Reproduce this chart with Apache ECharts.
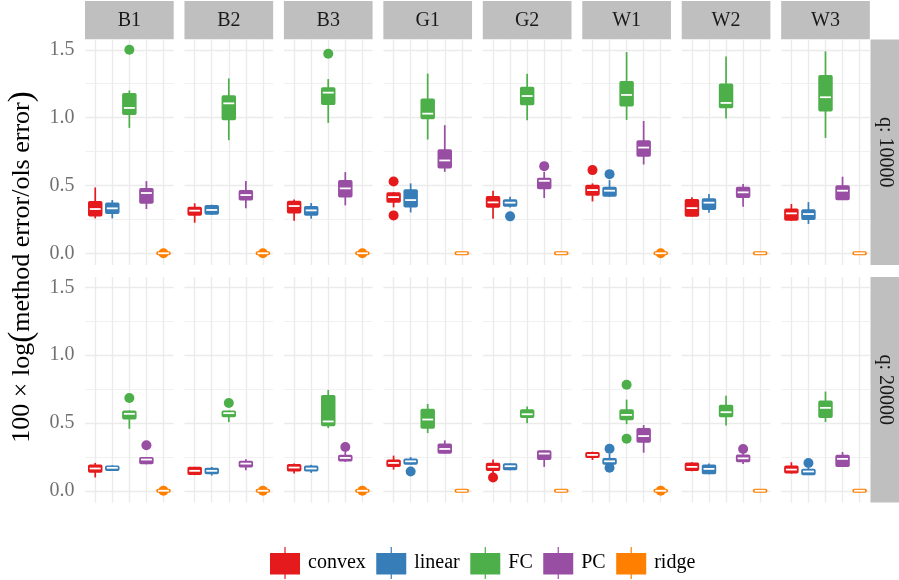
<!DOCTYPE html>
<html><head><meta charset="utf-8">
<script src="https://cdn.jsdelivr.net/npm/echarts/dist/echarts.min.js"></script>
<style>html,body{margin:0;padding:0;background:#fff}#c{width:899px;height:580px}</style>
</head><body><div id="c"></div>
<script>
// ---------- data ----------
const facets = ['B1', 'B2', 'B3', 'G1', 'G2', 'W1', 'W2', 'W3'];
const rowLabels = ['q: 10000', 'q: 20000'];
const methods = ['convex', 'linear', 'FC', 'PC', 'ridge'];
const yTicks = [0, 0.5, 1.0, 1.5];
const yTickLabels = ['0.0', '0.5', '1.0', '1.5'];
const yMinorTicks = [0.25, 0.75, 1.25];
const yTitle = '100 × log{p|(}method error/ols error{p|)}';

// box stats per facet: [lower whisker, Q1, median, Q3, upper whisker]
const convexQ10000 = [[0.257,0.277,0.326,0.380,0.485],[0.225,0.282,0.314,0.338,0.368],[0.240,0.299,0.348,0.382,0.397],[0.338,0.377,0.414,0.444,0.451],[0.255,0.341,0.375,0.417,0.461],[0.382,0.429,0.466,0.500,0.515],[0.270,0.275,0.333,0.395,0.412],[0.240,0.245,0.294,0.324,0.363]];
const linearQ10000 = [[0.257,0.294,0.331,0.368,0.392],[0.282,0.289,0.319,0.350,0.358],[0.255,0.282,0.316,0.343,0.370],[0.301,0.343,0.392,0.466,0.515],[0.338,0.348,0.373,0.392,0.417],[0.417,0.422,0.461,0.485,0.539],[0.299,0.324,0.373,0.400,0.436],[0.216,0.250,0.289,0.319,0.377]];
const fcQ10000 = [[0.924,1.025,1.071,1.176,1.200],[0.833,0.985,1.105,1.159,1.289],[0.961,1.098,1.184,1.218,1.284],[0.838,0.993,1.029,1.135,1.324],[0.980,1.096,1.159,1.221,1.324],[0.983,1.088,1.167,1.265,1.483],[0.993,1.074,1.108,1.245,1.451],[0.850,1.051,1.150,1.309,1.488]];
const pcQ10000 = [[0.326,0.370,0.444,0.475,0.532],[0.331,0.395,0.429,0.461,0.532],[0.353,0.417,0.478,0.534,0.598],[0.600,0.630,0.684,0.762,0.944],[0.407,0.478,0.534,0.551,0.600],[0.654,0.716,0.779,0.828,0.975],[0.343,0.412,0.449,0.485,0.510],[0.397,0.397,0.461,0.495,0.564]];
const ridgeQ10000 = [[-0.012,-0.010,0,0.010,0.012],[-0.012,-0.010,0,0.010,0.012],[-0.012,-0.010,0,0.010,0.012],[-0.011,-0.010,0,0.010,0.011],[-0.011,-0.010,0,0.010,0.011],[-0.012,-0.010,0,0.010,0.012],[-0.011,-0.010,0,0.010,0.011],[-0.011,-0.010,0,0.010,0.011]];

const convexQ20000 = [[0.098,0.139,0.164,0.188,0.205],[0.115,0.122,0.147,0.171,0.176],[0.127,0.147,0.171,0.191,0.200],[0.156,0.181,0.205,0.225,0.259],[0.127,0.151,0.176,0.200,0.230],[0.227,0.247,0.264,0.281,0.288],[0.144,0.151,0.176,0.203,0.210],[0.127,0.132,0.156,0.181,0.210]];
const linearQ20000 = [[0.147,0.151,0.169,0.181,0.188],[0.112,0.127,0.147,0.164,0.176],[0.132,0.147,0.164,0.181,0.191],[0.193,0.198,0.217,0.232,0.249],[0.151,0.156,0.181,0.198,0.200],[0.188,0.198,0.217,0.235,0.274],[0.122,0.127,0.161,0.188,0.200],[0.120,0.120,0.142,0.156,0.170]];
const fcQ20000 = [[0.457,0.530,0.567,0.586,0.591],[0.506,0.547,0.572,0.586,0.591],[0.462,0.481,0.511,0.701,0.743],[0.425,0.462,0.525,0.599,0.640],[0.498,0.542,0.564,0.596,0.621],[0.491,0.525,0.559,0.596,0.672],[0.481,0.547,0.579,0.628,0.701],[0.506,0.542,0.611,0.660,0.731]];
const pcQ20000 = [[0.195,0.200,0.230,0.244,0.249],[0.151,0.176,0.200,0.215,0.232],[0.213,0.222,0.242,0.259,0.286],[0.274,0.279,0.308,0.342,0.371],[0.176,0.232,0.274,0.293,0.298],[0.281,0.359,0.403,0.457,0.484],[0.198,0.215,0.239,0.261,0.274],[0.176,0.181,0.235,0.259,0.286]];
const ridgeQ20000 = [[-0.012,-0.010,0,0.010,0.012],[-0.012,-0.010,0,0.010,0.012],[-0.012,-0.010,0,0.010,0.012],[-0.011,-0.010,0,0.010,0.011],[-0.011,-0.010,0,0.010,0.011],[-0.012,-0.010,0,0.010,0.012],[-0.011,-0.010,0,0.010,0.011],[-0.011,-0.010,0,0.010,0.011]];

// outliers per facet
const convexOutQ10000 = [[],[],[],[0.529,0.279],[],[0.613],[],[]];
const linearOutQ10000 = [[],[],[],[],[0.272],[0.583],[],[]];
const fcOutQ10000 = [[1.500],[],[1.471],[],[],[],[],[]];
const pcOutQ10000 = [[],[],[],[],[0.642],[],[],[]];
const ridgeOutQ10000 = [[0.0],[0.0],[0.0],[],[],[0.0],[],[]];

const convexOutQ20000 = [[],[],[],[],[0.098],[],[],[]];
const linearOutQ20000 = [[],[],[],[0.142],[],[0.310,0.169],[],[0.205]];
const fcOutQ20000 = [[0.684],[0.647],[],[],[],[0.782,0.384],[],[]];
const pcOutQ20000 = [[0.335],[],[0.323],[],[],[],[0.308],[]];
const ridgeOutQ20000 = [[0.0],[0.0],[0.0],[],[],[0.0],[],[]];

const boxesByRow = [
  [convexQ10000, linearQ10000, fcQ10000, pcQ10000, ridgeQ10000],
  [convexQ20000, linearQ20000, fcQ20000, pcQ20000, ridgeQ20000]
];
const outByRow = [
  [convexOutQ10000, linearOutQ10000, fcOutQ10000, pcOutQ10000, ridgeOutQ10000],
  [convexOutQ20000, linearOutQ20000, fcOutQ20000, pcOutQ20000, ridgeOutQ20000]
];

// ---------- styling / layout ----------
const colors = ['#E41A1C', '#377EB8', '#4DAF4A', '#984EA3', '#FF7F00'];
const FONT = 'Liberation Serif';
const Y_MIN = -0.0866, Y_MAX = 1.5756;
const LEFT0 = 85, STEP = 99.45, PW = 88.7;
const ROW_TOP = [39.5, 277], PH = 225.5;
const GRID_COL = '#EBEBEB';
const STRIP = '#BFBFBF';

const chart = echarts.init(document.getElementById('c'), null, { renderer: 'canvas' });

const grids = [], xAxes = [], yAxes = [], series = [], graphics = [];

function makeBoxRender(col) {
  return function (params, api) {
    const x = api.value(0);
    const lo = api.coord([x, api.value(1)]);
    const q1 = api.coord([x, api.value(2)]);
    const md = api.coord([x, api.value(3)]);
    const q3 = api.coord([x, api.value(4)]);
    const hi = api.coord([x, api.value(5)]);
    const hw = api.size([0.76, 0])[0] / 2;
    const cx = lo[0];
    return {
      type: 'group',
      children: [
        { type: 'line', shape: { x1: cx, y1: lo[1], x2: cx, y2: hi[1] }, style: { stroke: col, lineWidth: 1.7 } },
        { type: 'rect', shape: { x: cx - hw, y: q3[1], width: 2 * hw, height: Math.max(q1[1] - q3[1], 0.5), r: 1 },
          style: { fill: col, stroke: col, lineWidth: 1.5, lineJoin: 'round' } },
        { type: 'line', shape: { x1: cx - hw + 1, y1: md[1], x2: cx + hw - 1, y2: md[1] }, style: { stroke: '#FFFFFF', lineWidth: 1.8 } }
      ]
    };
  };
}

for (let r = 0; r < 2; r++) {
  for (let c = 0; c < facets.length; c++) {
    const idx = r * facets.length + c;
    const left = LEFT0 + c * STEP;
    grids.push({ left: left, top: ROW_TOP[r], width: PW, height: PH, containLabel: false });
    xAxes.push({ gridIndex: idx, type: 'value', min: 0.4, max: 5.6, show: false });
    yAxes.push({ gridIndex: idx, type: 'value', min: Y_MIN, max: Y_MAX, show: false });

    // grid lines through markLine
    const ml = [];
    yMinorTicks.forEach(v => ml.push({ yAxis: v, lineStyle: { width: 0.7 } }));
    yTicks.forEach(v => ml.push({ yAxis: v, lineStyle: { width: 1.4 } }));
    methods.forEach((m, k) => ml.push({ xAxis: k + 1, lineStyle: { width: 1.4 } }));
    series.push({
      type: 'line', xAxisIndex: idx, yAxisIndex: idx, data: [[3, 0.5]],
      showSymbol: false, symbol: 'none', lineStyle: { opacity: 0 }, silent: true, z: 0,
      markLine: {
        silent: true, symbol: 'none', animation: false, z: 0,
        label: { show: false },
        lineStyle: { color: GRID_COL, type: 'solid' },
        emphasis: { disabled: true },
        data: ml
      }
    });

    // y tick labels on the first column, positioned by the y scale
    if (c === 0) {
      series.push({
        type: 'scatter', xAxisIndex: idx, yAxisIndex: idx, silent: true, z: 1,
        data: yTicks.map(v => [0.4, v]), symbol: 'rect', symbolSize: 1,
        itemStyle: { color: 'rgba(0,0,0,0)' },
        label: {
          show: true, position: 'left', distance: 10,
          formatter: p => yTickLabels[p.dataIndex],
          color: '#4D4D4D', fontSize: 20, fontFamily: FONT
        }
      });
    }

    methods.forEach((m, k) => {
      const col = colors[k];
      const outs = outByRow[r][k][c];
      if (outs.length) {
        series.push({
          type: 'scatter', name: m, xAxisIndex: idx, yAxisIndex: idx,
          data: outs.map(v => [k + 1, v]), symbol: 'circle', symbolSize: 10,
          itemStyle: { color: col, opacity: 1 }, z: 2, silent: true
        });
      }
      const b = boxesByRow[r][k][c];
      series.push({
        type: 'custom', name: m, xAxisIndex: idx, yAxisIndex: idx, z: 3, silent: true,
        itemStyle: { color: col },
        data: [[k + 1, b[0], b[1], b[2], b[3], b[4]]],
        encode: { x: 0, y: [1, 2, 3, 4, 5] },
        renderItem: makeBoxRender(col)
      });
    });

    if (r === 0) {
      graphics.push({ type: 'rect', shape: { x: left, y: 1, width: PW, height: 38.3 }, style: { fill: STRIP }, silent: true });
      graphics.push({ type: 'text', x: left + PW / 2, y: 20.5, silent: true,
        style: { text: facets[c], font: '20px ' + FONT, fill: '#1A1A1A', textAlign: 'center', textVerticalAlign: 'middle' } });
    }
  }
  // right strip
  graphics.push({ type: 'rect', shape: { x: 870.5, y: ROW_TOP[r], width: 28.5, height: PH }, style: { fill: STRIP }, silent: true });
  graphics.push({ type: 'text', x: 885, y: ROW_TOP[r] + PH / 2, rotation: -Math.PI / 2, silent: true,
    style: { text: rowLabels[r], font: '20px ' + FONT, fill: '#1A1A1A', textAlign: 'center', textVerticalAlign: 'middle' } });
}

// y-axis title
graphics.push({ type: 'text', x: 22.5, y: 267, rotation: Math.PI / 2, silent: true,
  style: { text: yTitle, font: '26px ' + FONT, fill: '#000', textAlign: 'center', textVerticalAlign: 'middle',
    rich: { p: { fontSize: 33, fontFamily: FONT, fill: '#000' } } } });

const legendIcon = 'path://M0,6H30V27.5H0Z M14.4,0H15.6V6H14.4Z M14.4,27.5H15.6V32H14.4Z';

chart.setOption({
  animation: false,
  backgroundColor: '#FFFFFF',
  grid: grids,
  xAxis: xAxes,
  yAxis: yAxes,
  legend: {
    left: 270, top: 547, padding: 0, itemGap: 10.5, itemWidth: 30, itemHeight: 32,
    selectedMode: false,
    data: methods.map((m, i) => ({ name: m, icon: legendIcon, itemStyle: { color: colors[i] } })),
    textStyle: { fontFamily: FONT, fontSize: 20, color: '#000', padding: [0, 0, 0, 3] }
  },
  series: series,
  graphic: graphics
});
</script></body></html>
